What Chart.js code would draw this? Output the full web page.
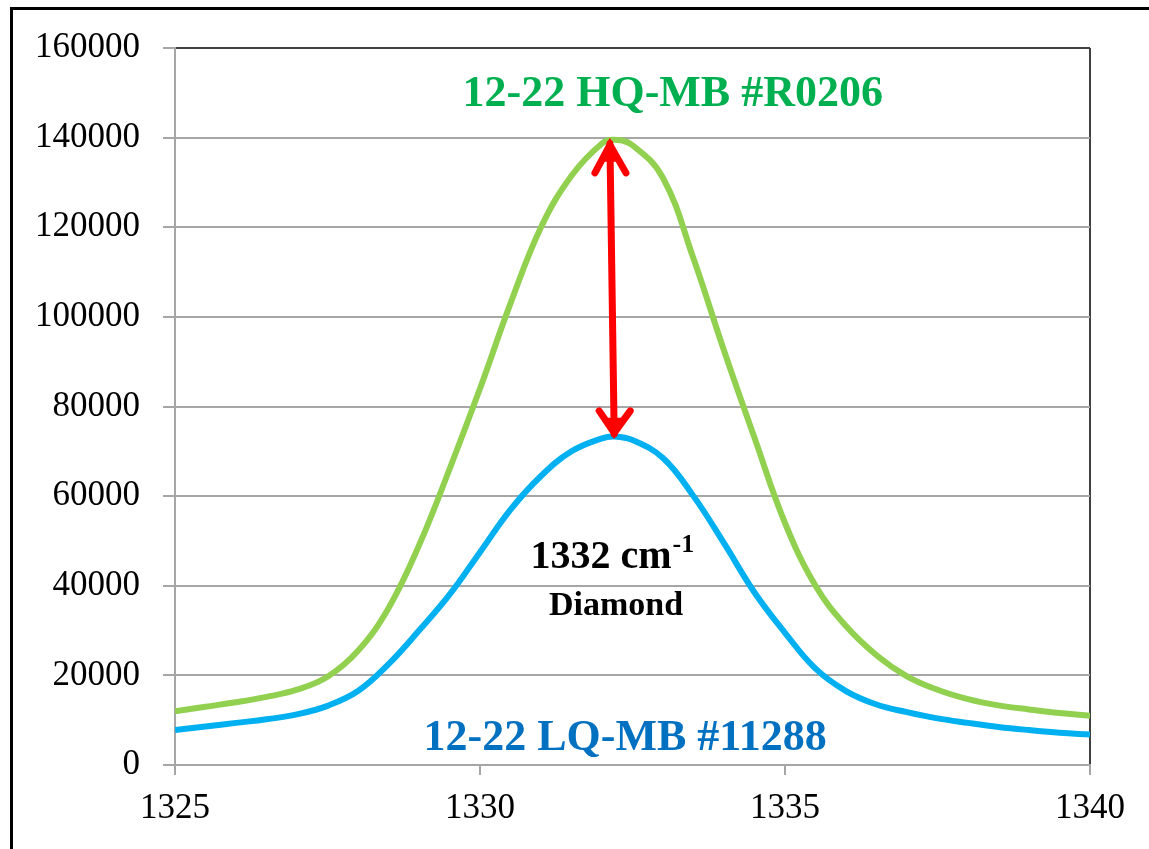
<!DOCTYPE html>
<html>
<head>
<meta charset="utf-8">
<script src="https://cdn.jsdelivr.net/npm/chart.js@4/dist/chart.umd.min.js"></script>
<style>
    html, body { margin: 0; padding: 0; background: #fff; }
    #wrap { position: relative; width: 1149px; height: 849px; overflow: hidden; }
    #frame {
        position: absolute; left: 10px; top: 7px; width: 1200px; height: 900px;
        border-left: 3px solid #000; border-top: 3px solid #000;
    }
    #chart { position: absolute; left: 0; top: 0; }
</style>
</head>
<body>
<div id="wrap">
    <div id="frame"></div>
    <canvas id="chart" width="1149" height="849"></canvas>
</div>
<script>
const wavenumbers = [1325, 1325.5, 1326, 1326.5, 1327, 1327.5, 1328, 1328.5, 1329, 1329.5,
    1330, 1330.5, 1331, 1331.5, 1332, 1332.2, 1332.5, 1333, 1333.5, 1334, 1334.5,
    1335, 1335.5, 1336, 1336.5, 1337, 1337.5, 1338, 1338.5, 1339, 1339.5, 1340];

const hqValues = [12000, 13000, 14000, 15200, 16800, 19700, 25500, 35000, 49000, 66000,
    84000, 103000, 120000, 131500, 138700, 139500, 138300, 131000, 113000, 92500, 73000,
    54000, 40000, 31000, 24500, 19800, 16800, 14700, 13300, 12400, 11600, 11000];

const lqValues = [7800, 8600, 9400, 10200, 11300, 13200, 16500, 22500, 30000, 38000,
    47500, 57000, 64500, 70000, 72900, 73300, 72500, 68500, 60000, 49500, 38500,
    29500, 21500, 16500, 13500, 11800, 10400, 9400, 8500, 7800, 7200, 6800];

const yTicks = [0, 20000, 40000, 60000, 80000, 100000, 120000, 140000, 160000];
const xTicks = [1325, 1330, 1335, 1340];

const hqLabel = "12-22 HQ-MB #R0206";
const lqLabel = "12-22 LQ-MB #11288";
const peakLabel = "1332 cm";
const peakSup = "-1";
const peakName = "Diamond";

const serif = '"Liberation Serif", "Times New Roman", serif';

function toPoints(values) {
    return wavenumbers.map((w, i) => ({ x: w, y: values[i] }));
}

const textPlugin = {
    id: "textPlugin",
    afterDatasetsDraw(chart) {
        const { ctx, scales: { x, y } } = chart;
        ctx.save();

        // red double arrow between the two peaks
        const x1 = x.getPixelForValue(1332.13), y1 = y.getPixelForValue(139500);
        const x2 = x.getPixelForValue(1332.2), y2 = y.getPixelForValue(73000);
        ctx.strokeStyle = "#ff0000";
        ctx.lineWidth = 7;
        ctx.lineCap = "round";
        ctx.lineJoin = "miter";
        ctx.beginPath();
        ctx.moveTo(x1, y1 + 4);
        ctx.lineTo(x2, y2 - 4);
        ctx.stroke();
        ctx.beginPath();
        ctx.moveTo(x1 - 15, y1 + 33);
        ctx.lineTo(x1, y1 + 5);
        ctx.lineTo(x1 + 16, y1 + 33);
        ctx.stroke();
        ctx.beginPath();
        ctx.moveTo(x2 - 15, y2 - 27);
        ctx.lineTo(x2, y2 - 5);
        ctx.lineTo(x2 + 16, y2 - 27);
        ctx.stroke();
        ctx.fillStyle = "#ff0000";
        ctx.beginPath();
        ctx.moveTo(x1, y1);
        ctx.lineTo(x1 - 9, y1 + 22);
        ctx.lineTo(x1 + 9, y1 + 22);
        ctx.fill();
        ctx.beginPath();
        ctx.moveTo(x2, y2);
        ctx.lineTo(x2 - 9, y2 - 20);
        ctx.lineTo(x2 + 9, y2 - 20);
        ctx.fill();

        ctx.textAlign = "center";
        ctx.textBaseline = "alphabetic";

        ctx.font = "bold 44px " + serif;
        ctx.fillStyle = "#00b050";
        ctx.fillText(hqLabel, x.getPixelForValue(1333.16), y.getPixelForValue(147000));

        ctx.fillStyle = "#0070c0";
        ctx.fillText(lqLabel, x.getPixelForValue(1332.38), y.getPixelForValue(3300));

        ctx.fillStyle = "#000";
        ctx.font = "bold 40px " + serif;
        const w1 = ctx.measureText(peakLabel).width;
        ctx.font = "bold 26px " + serif;
        const w2 = ctx.measureText(peakSup).width;
        const cx = x.getPixelForValue(1332.16);
        const by = y.getPixelForValue(44000);
        const left = cx - (w1 + w2) / 2;
        ctx.textAlign = "left";
        ctx.font = "bold 40px " + serif;
        ctx.fillText(peakLabel, left, by);
        ctx.font = "bold 26px " + serif;
        ctx.fillText(peakSup, left + w1 + 1, by - 16);

        ctx.textAlign = "center";
        ctx.font = "bold 34px " + serif;
        ctx.fillText(peakName, x.getPixelForValue(1332.23), y.getPixelForValue(33500));

        ctx.restore();
    }
};

new Chart(document.getElementById("chart"), {
    type: "line",
    data: {
        datasets: [
            {
                label: hqLabel,
                data: toPoints(hqValues),
                borderColor: "#92d050",
                borderWidth: 6,
                pointRadius: 0,
                tension: 0.4,
                fill: false
            },
            {
                label: lqLabel,
                data: toPoints(lqValues),
                borderColor: "#00b0f0",
                borderWidth: 6,
                pointRadius: 0,
                tension: 0.4,
                fill: false
            }
        ]
    },
    options: {
        responsive: false,
        animation: false,
        devicePixelRatio: 1,
        layout: { padding: { top: 48, right: 59, left: 0, bottom: 0 } },
        plugins: {
            legend: { display: false },
            tooltip: { enabled: false },
            title: { display: false }
        },
        scales: {
            x: {
                type: "linear",
                min: 1325,
                max: 1340,
                afterBuildTicks: scale => { scale.ticks = xTicks.map(v => ({ value: v })); },
                afterFit: scale => { scale.height = 84; },
                ticks: {
                    color: "#000",
                    font: { family: serif, size: 35 },
                    padding: 13,
                    maxRotation: 0,
                    callback: v => String(v)
                },
                grid: {
                    drawOnChartArea: true,
                    color: c => (c.tick && c.tick.value === 1340 ? "#404040" : "rgba(0,0,0,0)"),
                    tickColor: "#a6a6a6",
                    tickLength: 10,
                    lineWidth: 2
                },
                border: { color: "#a6a6a6", width: 2 }
            },
            y: {
                min: 0,
                max: 160000,
                afterBuildTicks: scale => { scale.ticks = yTicks.map(v => ({ value: v })); },
                afterFit: scale => { scale.width = 175; },
                ticks: {
                    color: "#000",
                    font: { family: serif, size: 35 },
                    padding: 23,
                    callback: v => String(v)
                },
                grid: {
                    color: c => (c.tick && c.tick.value === 160000 ? "#404040" : "#a6a6a6"),
                    tickColor: "#a6a6a6",
                    tickLength: 12,
                    lineWidth: 2
                },
                border: { color: "#a6a6a6", width: 2 }
            }
        }
    },
    plugins: [textPlugin]
});
</script>
</body>
</html>
